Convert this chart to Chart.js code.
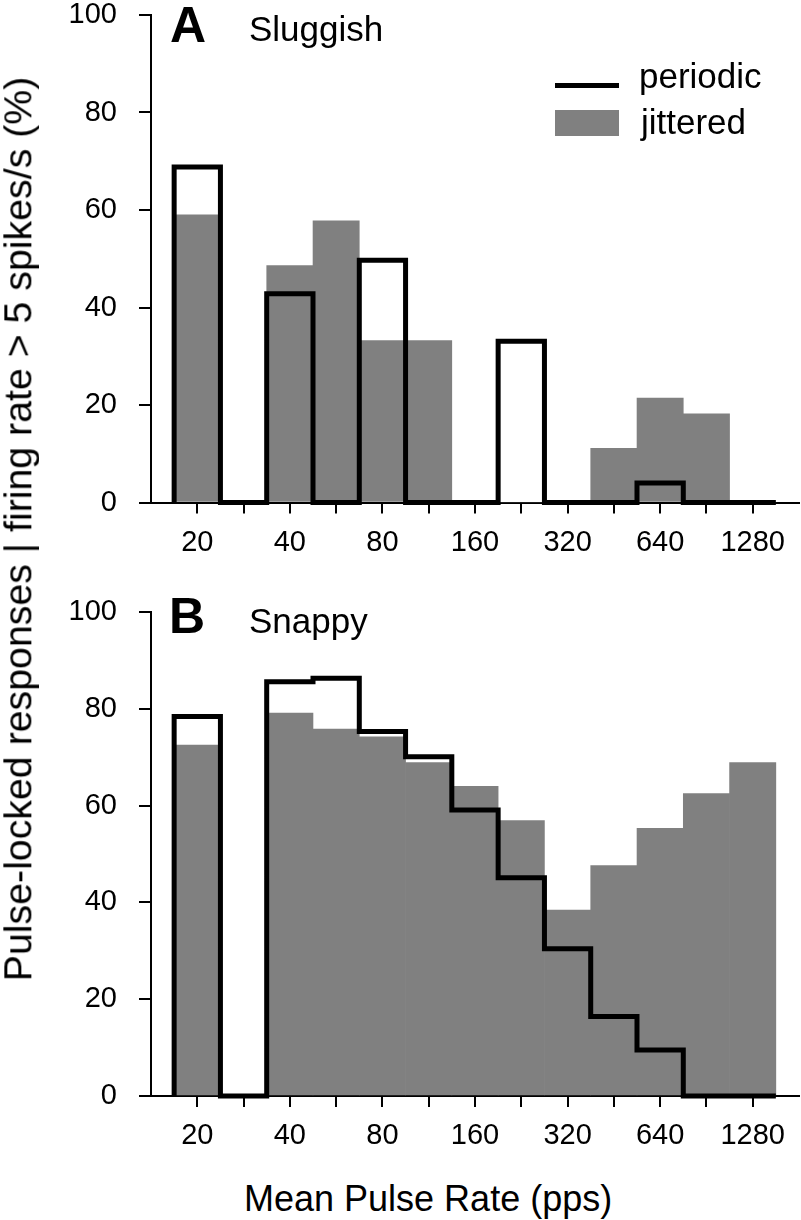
<!DOCTYPE html>
<html>
<head>
<meta charset="utf-8">
<script src="https://cdn.jsdelivr.net/npm/chart.js@4.4.0/dist/chart.umd.min.js"></script>
<style>
  html, body { margin: 0; padding: 0; background: #fff; }
  body {
    width: 801px; height: 1220px; position: relative; overflow: hidden;
    font-family: "Liberation Sans", Arial, Helvetica, sans-serif; color: #000;
  }
  canvas { position: absolute; left: 0; }
  #chartA { top: 0; }
  #chartB { top: 560px; }
  .txt { position: absolute; white-space: nowrap; line-height: 1; }
  .letter { font-weight: bold; font-size: 50px; }
  .name { font-size: 35px; }
  .legend-line { position: absolute; left: 555px; top: 82.5px; width: 64px; height: 5px; background: #000; }
  .legend-box { position: absolute; left: 555px; top: 110px; width: 64px; height: 26px; background: #808080; }
  #yTitle {
    font-size: 39.3px; left: 17.5px; top: 529px;
    transform: translate(-50%, -50%) rotate(-90deg);
  }
  #xTitle { font-size: 36px; left: 244px; top: 1181px; }
</style>
</head>
<body>
<canvas id="chartA" width="801" height="560"></canvas>
<canvas id="chartB" width="801" height="590"></canvas>

<div class="txt letter" style="left:170px; top:0px;">A</div>
<div class="txt name" style="left:249px; top:11px;">Sluggish</div>
<div class="txt letter" style="left:169px; top:591px;">B</div>
<div class="txt name" style="left:249px; top:603px;">Snappy</div>

<div class="legend-line"></div>
<div class="txt name" style="left:639px; top:58px;">periodic</div>
<div class="legend-box"></div>
<div class="txt name" style="left:641px; top:104px;">jittered</div>

<div class="txt" id="yTitle">Pulse-locked responses | firing rate &gt; 5 spikes/s (%)</div>
<div class="txt" id="xTitle">Mean Pulse Rate (pps)</div>

<script>
// Bin centres (pps), half-octave spacing
const binCenters = [20, 28.28, 40, 56.57, 80, 113.1, 160, 226.3, 320, 452.5, 640, 905.1, 1280];
const xTickLabels = ['20', '', '40', '', '80', '', '160', '', '320', '', '640', '', '1280'];
const yTicks = [0, 20, 40, 60, 80, 100];

// Panel A - Sluggish
const sluggishPeriodic = [68.8, 0, 42.8, 0, 49.7, 0, 0, 33.1, 0, 0, 4.0, 0, 0];
const sluggishJittered = [59.0, 0, 48.6, 57.8, 33.2, 33.2, 0, 0, 0, 11.1, 21.4, 18.2, 0];

// Panel B - Snappy
const snappyPeriodic = [78.4, 0, 85.6, 86.3, 75.3, 70.1, 59.1, 45.1, 30.4, 16.4, 9.5, 0, 0];
const snappyJittered = [72.5, 0, 79.1, 75.8, 74.2, 68.9, 64.0, 56.9, 38.4, 47.6, 55.3, 62.5, 68.9];

const FONT = '"Liberation Sans", Arial, Helvetica, sans-serif';
const HALF_BIN = Math.pow(2, 0.25);

function stepPoints(values) {
    // outline of the histogram: starts at the left edge of the first bin
    const pts = [{ x: binCenters[0] / HALF_BIN, y: 0 }];
    values.forEach((v, i) => pts.push({ x: binCenters[i] * HALF_BIN, y: v }));
    return pts;
}

function makePanel(canvasId, periodic, jittered, topPad, axisHeight) {
    const ctx = document.getElementById(canvasId);
    return new Chart(ctx, {
        data: {
            datasets: [{
                type: 'line',
                label: 'periodic',
                data: stepPoints(periodic),
                stepped: 'after',
                borderColor: '#000',
                borderWidth: 5,
                borderJoinStyle: 'miter',
                borderCapStyle: 'butt',
                pointRadius: 0,
                fill: false,
                clip: false,
                order: 1
            }, {
                type: 'bar',
                label: 'jittered',
                data: binCenters.map((x, i) => ({ x: x, y: jittered[i] })),
                backgroundColor: '#808080',
                borderWidth: 0,
                barPercentage: 1,
                categoryPercentage: 1,
                order: 2
            }]
        },
        options: {
            responsive: false,
            animation: false,
            events: [],
            layout: { padding: { top: topPad, right: 2, left: 0, bottom: 0 } },
            plugins: {
                legend: { display: false },
                tooltip: { enabled: false }
            },
            scales: {
                x: {
                    type: 'logarithmic',
                    offset: false,
                    min: binCenters[0] / Math.SQRT2,
                    max: binCenters[binCenters.length - 1] * Math.SQRT2,
                    afterBuildTicks: function(scale) {
                        scale.ticks = binCenters.map(v => ({ value: v }));
                    },
                    afterFit: function(scale) {
                        scale.height = axisHeight;
                        scale.paddingLeft = 0;
                        scale.paddingRight = 0;
                    },
                    border: { display: true, color: '#000', width: 2 },
                    grid: {
                        offset: false,
                        drawOnChartArea: false,
                        drawTicks: true,
                        tickLength: 11,
                        color: '#000',
                        lineWidth: 2
                    },
                    ticks: {
                        autoSkip: false,
                        maxRotation: 0,
                        minRotation: 0,
                        padding: 12,
                        color: '#000',
                        font: { size: 29, family: FONT, lineHeight: 1.2 },
                        callback: function(value, index) {
                            return xTickLabels[index];
                        }
                    }
                },
                y: {
                    min: 0,
                    max: 100,
                    afterBuildTicks: function(scale) {
                        scale.ticks = yTicks.map(v => ({ value: v }));
                    },
                    afterFit: function(scale) {
                        // fixed axis width, no extra room reserved for the top label
                        scale.width = 151;
                        scale.paddingTop = 0;
                        scale.paddingBottom = 0;
                    },
                    border: { display: true, color: '#000', width: 2 },
                    grid: {
                        drawOnChartArea: false,
                        drawTicks: true,
                        tickLength: 12,
                        color: '#000',
                        lineWidth: 2
                    },
                    ticks: {
                        padding: 22,
                        color: '#000',
                        font: { size: 29, family: FONT, lineHeight: 1 }
                    }
                }
            }
        }
    });
}

makePanel('chartA', sluggishPeriodic, sluggishJittered, 15, 57.5);
makePanel('chartB', snappyPeriodic, snappyJittered, 52, 54);
</script>
</body>
</html>
